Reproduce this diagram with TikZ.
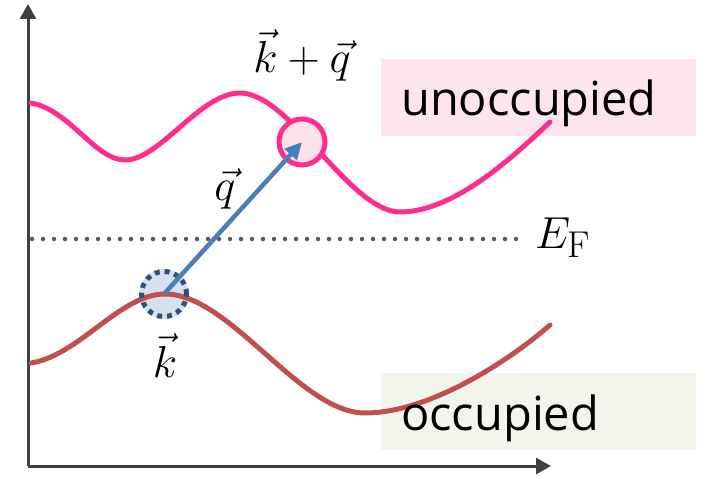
\documentclass[tikz,border=0pt]{standalone}
\usepackage{graphicx}
\usepackage{fontspec}
\setsansfont{Open Sans}
\usetikzlibrary{arrows.meta}
\definecolor{axisgray}{HTML}{404040}
\definecolor{bandpink}{HTML}{FF2D8E}
\definecolor{bandred}{HTML}{C0504D}
\definecolor{arrowblue}{HTML}{4A7EBB}
\definecolor{dotgray}{HTML}{595959}
\definecolor{pinkfill}{HTML}{FCE0EA}
\definecolor{bluefill}{HTML}{D6E0EF}
\definecolor{darkblue}{HTML}{2E4F7F}
\definecolor{unoccbox}{HTML}{FDE4EF}
\definecolor{occbox}{HTML}{F2F5EC}
\newcommand{\bigmath}[1]{\scalebox{1.8}{\Huge$#1$}}
\tikzset{
  axisline/.style={draw=axisgray, line width=3pt, -{Triangle[length=15pt,width=16pt]}},
  band/.style={line width=5pt, line cap=round},
  mathlabel/.style={inner sep=0pt, anchor=base},
  boxlabel/.style={font=\sffamily\fontsize{47}{52}\selectfont, inner sep=0pt, anchor=base west},
}
\begin{document}
\begin{tikzpicture}[x=1pt,y=-1pt]
\useasboundingbox (0,0) rectangle (703,476);
% label boxes
\fill[unoccbox] (381,59) rectangle (696,136);
\fill[occbox] (381,373) rectangle (696,450);
% axes
\coordinate (origin) at (28,466);
\coordinate (ytip) at (28,4);
\coordinate (xtip) at (551,466);
\draw[axisline] (origin) -- (ytip);
\draw[axisline] (origin) -- (xtip);
% Fermi level
\coordinate (efL) at (32,239);
\coordinate (efR) at (524,239);
\draw[dotgray, line width=4.5pt, line cap=round, dash pattern=on 0pt off 11pt] (efL) -- (efR);
\node[mathlabel, anchor=base west] (ef) at (535,248) {\bigmath{E_{\mathrm{F}}}};
% occupied band
\node[circle, fill=bluefill, minimum size=50pt, inner sep=0pt] (k) at (164,294) {};
\draw[bandred, band] (31,363) .. controls (80,355) and (120,294) .. (165,294)
  .. controls (230,294) and (300,413) .. (365,413)
  .. controls (430,413) and (510,360) .. (550,325);
\draw[darkblue, line width=5pt, dash pattern=on 5pt off 4.9pt] (k) circle[radius=22.5pt];
% unoccupied band
\draw[bandpink, band] (31,103) .. controls (70,110) and (95,160) .. (125,160)
  .. controls (160,160) and (200,93) .. (240,93)
  .. controls (290,93) and (350,212) .. (400,212)
  .. controls (455,212) and (515,155) .. (550,122);
\node[circle, draw=bandpink, fill=pinkfill, line width=5pt, minimum size=46pt, inner sep=0pt] (kq) at (302,142) {};
% transfer arrow
\draw[arrowblue, line width=4.5pt, -{Triangle[length=17pt,width=16pt]}] (k.center) -- (kq.center);
% labels
\node[mathlabel] (lkq) at (302,73) {\bigmath{\vec{k}+\vec{q}}};
\node[mathlabel] (lq) at (225,200) {\bigmath{\vec{q}}};
\node[mathlabel] (lk) at (165,377) {\bigmath{\vec{k}}};
\node[boxlabel] (unocc) at (401,115) {unoccupied};
\node[boxlabel] (occ) at (401,430) {occupied};
\end{tikzpicture}
\end{document}
